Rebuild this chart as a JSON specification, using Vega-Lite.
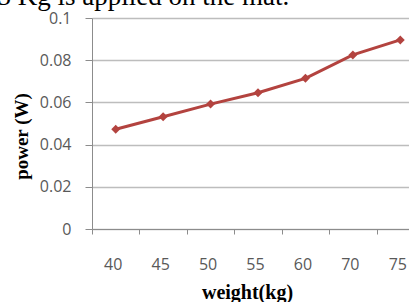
{
  "$schema": "https://vega.github.io/schema/vega-lite/v6.json",
  "autosize": "none",
  "width": 332,
  "height": 211,
  "padding": {"left": 92, "top": 18, "right": 0, "bottom": 73},
  "background": "white",
  "title": {
    "text": "75 Kg is applied on the mat.",
    "font": "Liberation Serif",
    "fontSize": 27,
    "fontWeight": "normal",
    "color": "#000000",
    "anchor": "start",
    "frame": "group",
    "baseline": "alphabetic",
    "offset": 0,
    "dy": 22,
    "dx": -108
  },
  "config": {
    "view": {"stroke": null},
    "axis": {
      "labelFont": "Open Sans",
      "labelFontSize": 16,
      "labelColor": "#595959",
      "domainColor": "#8c8c8c",
      "tickColor": "#8c8c8c",
      "gridColor": "#bdbdbd",
      "gridWidth": 1.3,
      "titleFont": "Liberation Serif",
      "titleFontWeight": "bold",
      "titleColor": "#000000"
    }
  },
  "data": {
    "values": [
      {"weight": "40", "power": 0.0473},
      {"weight": "45", "power": 0.0532},
      {"weight": "50", "power": 0.0592},
      {"weight": "55", "power": 0.0646},
      {"weight": "60", "power": 0.0714},
      {"weight": "70", "power": 0.0825},
      {"weight": "75", "power": 0.0896}
    ]
  },
  "encoding": {
    "x": {
      "field": "weight",
      "type": "ordinal",
      "sort": ["40", "45", "50", "55", "60", "70", "75"],
      "scale": {"paddingInner": 0, "paddingOuter": 0},
      "axis": {
        "title": "weight(kg)",
        "titleFontSize": 20,
        "titleX": 155,
        "titleY": 63,
        "titleBaseline": "middle",
        "labelAngle": 0,
        "labelOffset": -3,
        "tickBand": "extent",
        "tickSize": 5,
        "labelPadding": 22,
        "grid": false
      }
    },
    "y": {
      "field": "power",
      "type": "quantitative",
      "scale": {"domain": [0, 0.1], "nice": false},
      "axis": {
        "title": "power (W)",
        "titleFontSize": 19,
        "titleX": -71,
        "titleY": 118,
        "titleAngle": 270,
        "titleBaseline": "middle",
        "titleAlign": "center",
        "values": [0, 0.02, 0.04, 0.06, 0.08, 0.1],
        "format": "~g",
        "tickSize": 7,
        "labelPadding": 14,
        "grid": true
      }
    }
  },
  "layer": [
    {"mark": {"type": "line", "color": "#b3433f", "strokeWidth": 3}},
    {"mark": {"type": "point", "shape": "diamond", "filled": true, "color": "#b3433f", "opacity": 1, "size": 80}}
  ]
}
